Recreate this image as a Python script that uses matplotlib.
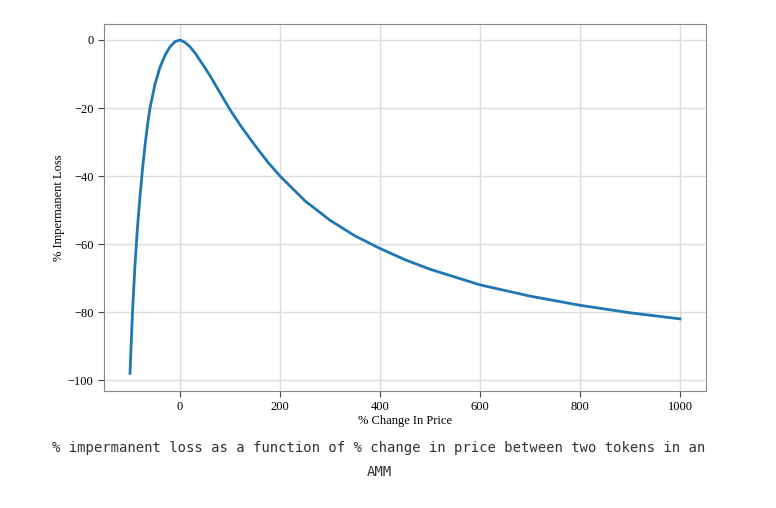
import matplotlib.pyplot as plt

# values
pct_change = [-100, -95, -90, -85, -80, -75, -70, -65, -60, -50, -40, -30, -20, -10, 0,
              10, 20, 30, 40, 50, 60, 80, 100, 125, 150, 175, 200, 250, 300, 350, 400,
              450, 500, 600, 700, 800, 900, 1000]
imp_loss = [-98, -80, -66, -55, -46, -38, -31, -25, -20, -13, -8, -4.5, -2, -0.5, 0,
            -0.7, -2, -3.8, -6, -8.2, -10.5, -15.5, -20.5, -26, -31, -35.8, -40, -47.3, -53, -57.6, -61.3,
            -64.6, -67.4, -72, -75.3, -78, -80.2, -82]

xticks = [0, 200, 400, 600, 800, 1000]
yticks = [0, -20, -40, -60, -80, -100]

fig = plt.figure(figsize=(7.76, 5.08), dpi=100)
ax = fig.add_axes([104 / 776, 1 - 391 / 508, (706 - 104) / 776, (391 - 24) / 508])

ax.plot(pct_change, imp_loss, color='#1f77b4', linewidth=2)
ax.set_xlim(-152, 1052)
ax.set_ylim(-103.2, 4.7)
ax.set_xticks(xticks)
ax.set_yticks(yticks)
ax.set_yticklabels(['0', '−20', '−40', '−60', '−80', '−100'])
ax.grid(True, color='#dddddd', linewidth=1)
ax.set_axisbelow(True)
for s in ax.spines.values():
    s.set_color('#888888')
ax.tick_params(colors='#444444', labelsize=9, length=4, labelcolor='black')
for lab in ax.get_xticklabels() + ax.get_yticklabels():
    lab.set_family('Liberation Serif')
ax.set_xlabel('% Change In Price', family='Liberation Serif', fontsize=9, labelpad=1)
ax.set_ylabel('% Impermanent Loss', family='Liberation Serif', fontsize=9, labelpad=2)

fig.text(379 / 776, 1 - 448 / 508, '% impermanent loss as a function of % change in price between two tokens in an',
         ha='center', va='center', family='DejaVu Sans Mono', fontsize=10, color='#333333')
fig.text(379 / 776, 1 - 472 / 508, 'AMM', ha='center', va='center', family='DejaVu Sans Mono',
         fontsize=10, color='#333333')

plt.savefig('out.png', dpi=100)
